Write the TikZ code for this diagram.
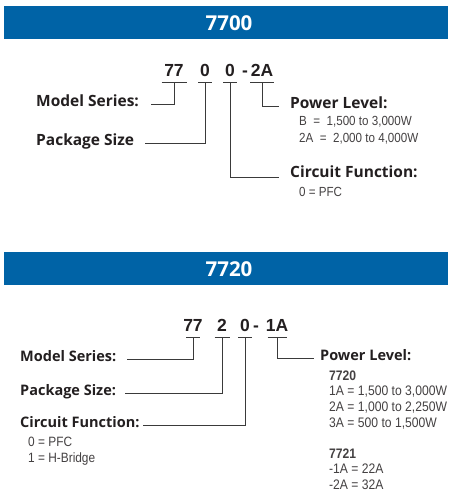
\documentclass[tikz,border=0pt]{standalone}
\usepackage{fontspec}
\setmainfont{Open Sans}
\newfontfamily\pnfont{Liberation Sans}
\newfontfamily\smfont[FakeStretch=0.88]{Liberation Sans}
\usetikzlibrary{positioning}
\definecolor{bandeau}{HTML}{0063A6}
\definecolor{encre}{HTML}{231F20}
\definecolor{trait}{HTML}{3A3A3A}
\tikzset{
  titre/.style={text=white, font=\bfseries\fontsize{20.5}{24}\selectfont},
  code/.style={anchor=base, inner sep=0pt, text=encre, font=\pnfont\bfseries\fontsize{17.5}{20}\selectfont},
  lbl/.style={anchor=mid west, inner sep=0pt, text=encre, font=\bfseries\fontsize{#1}{18}\selectfont},
  lbl/.default=15.5,
  info/.style 2 args={anchor=north west, inner sep=0pt, align=left, text=encre!85, font=\smfont\fontsize{#1}{#2}\selectfont},
  uline/.style={line width=1pt, draw=trait},
  conn/.style={line width=1pt, draw=trait},
}

\begin{document}
\begin{tikzpicture}[x=1pt, y=1pt]
    \useasboundingbox (0,0) rectangle (448,-493);
    % 7700
    \fill[bandeau] (4,-6) rectangle (448,-39);
    \node[titre] (t1) at (229,-23) {7700};
    \node[code] (a77) at (174,-76) {77};
    \node[code] (a0) at (205,-76) {0};
    \node[code] (b0) at (230,-76) {0};
    \node[code] (tiret1) at (245,-76) {-};
    \node[code] (a2A) at (262,-76) {2A};
    \foreach \n/\w in {a77/25, a0/14, b0/14, a2A/24}
      \draw[uline] ([xshift=-\w/2, yshift=-6]\n.base) -- ++(\w,0);
    \node[lbl] (ms1) at (36,-104) {Model Series:};
    \node[lbl] (ps1) at (36,-143) {Package Size};
    \node[lbl] (pl1) at (290,-106) {Power Level:};
    \node[info={13.2}{17.5}] (pl1v) at (299,-116) {B \ = \ 1,500 to 3,000W\\2A \ = \ 2,000 to 4,000W};
    \node[lbl] (cf1) at (290,-175) {Circuit Function:};
    \node[info={13.2}{17}] (cf1v) at (299,-187) {0 = PFC};
    \draw[conn] ([yshift=-6]a77.base) |- ([xshift=12]ms1.mid east);
    \draw[conn] ([yshift=-6]a0.base) |- ([xshift=11]ps1.mid east);
    \draw[conn] ([yshift=-6]b0.base) |- ([xshift=-11,yshift=-2]cf1.mid west);
    \draw[conn] ([yshift=-6]a2A.base) |- ([xshift=-11]pl1.mid west);
    % 7720
    \fill[bandeau] (4,-252) rectangle (448,-285);
    \node[titre] (t2) at (229,-269) {7720};
    \node[code] (c77) at (193,-331) {77};
    \node[code] (c2) at (222,-331) {2};
    \node[code] (c0) at (245,-331) {0};
    \node[code] (tiret2) at (256,-331) {-};
    \node[code] (c1A) at (277,-331) {1A};
    \foreach \n/\w in {c77/14, c2/15, c0/14, c1A/19}
      \draw[uline] ([xshift=-\w/2, yshift=-6]\n.base) -- ++(\w,0);
    \node[lbl=14.5] (ms2) at (20,-359) {Model Series:};
    \node[lbl=14.5] (ps2) at (20,-393) {Package Size:};
    \node[lbl=14.5] (cf2) at (20,-425) {Circuit Function:};
    \node[info={13.5}{16}] (cf2v) at (28,-437) {0 = PFC\\1 = H-Bridge};
    \node[lbl=14.5] (pl2) at (320,-358) {Power Level:};
    \node[info={13.8}{15.6}] (pl2v) at (329,-370.5) {\textbf{7720}\\1A = 1,500 to 3,000W\\2A = 1,000 to 2,250W\\3A = 500 to 1,500W\\[15.6pt]\textbf{7721}\\-1A = 22A\\-2A = 32A};
    \draw[conn] ([yshift=-6]c77.base) |- ([xshift=11]ms2.mid east);
    \draw[conn] ([yshift=-6]c2.base) |- ([xshift=9]ps2.mid east);
    \draw[conn] ([yshift=-6]c0.base) |- ([xshift=3]cf2.mid east);
    \draw[conn] ([yshift=-6]c1A.base) |- ([xshift=-6]pl2.mid west);
\end{tikzpicture}
\end{document}
